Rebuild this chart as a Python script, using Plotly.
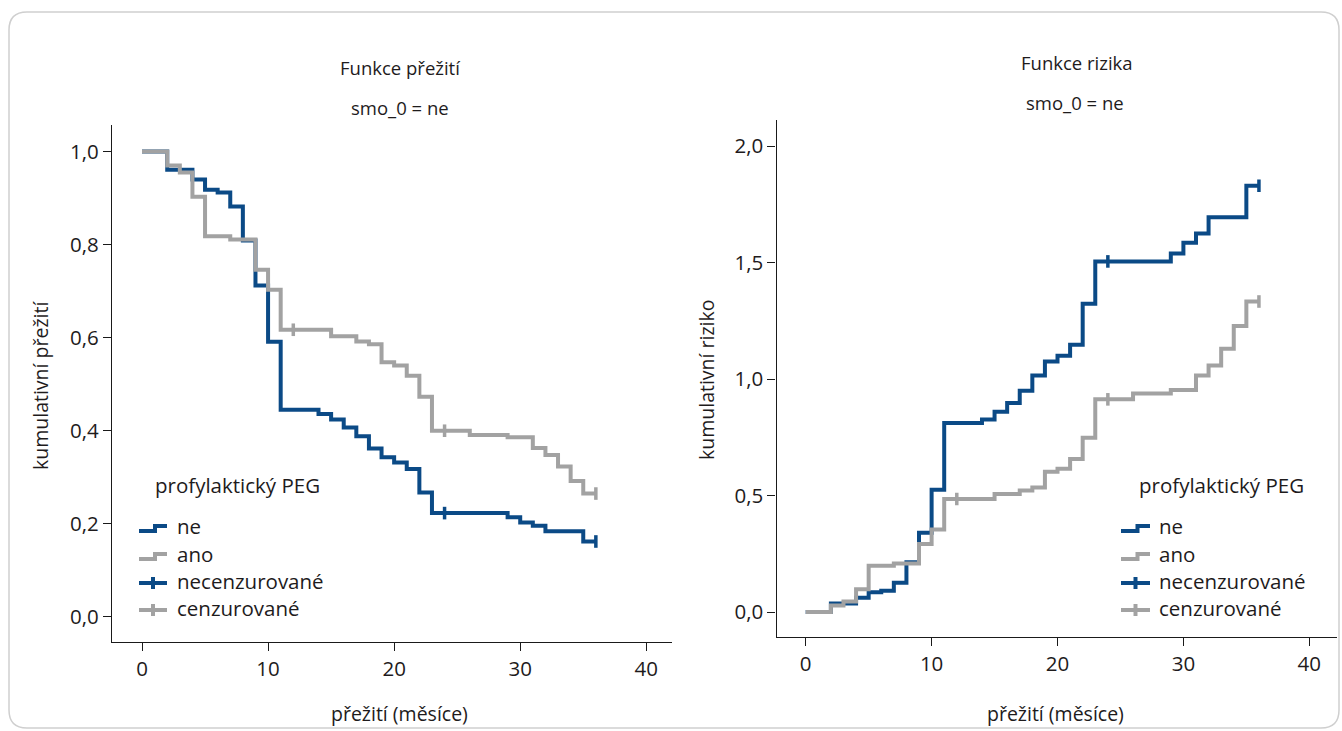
import plotly.graph_objects as go

W, H = 1342, 731

# ---------------- data ----------------
# Kaplan-Meier survival, group "ne" (blue)
surv_ne_t = [0, 2, 4, 5, 6, 7, 8, 9, 10, 11, 14, 15, 16, 17, 18, 19, 20, 21, 22, 23, 29, 30, 31, 32, 35, 36]
surv_ne_s = [1.0, 0.961, 0.940, 0.918, 0.912, 0.882, 0.809, 0.712, 0.591, 0.445, 0.436, 0.424, 0.407, 0.388,
             0.362, 0.343, 0.332, 0.318, 0.267, 0.223, 0.214, 0.203, 0.196, 0.184, 0.162, 0.162]
# group "ano" (gray)
surv_ano_t = [0, 2, 3, 4, 5, 7, 9, 10, 11, 15, 17, 18, 19, 20, 21, 22, 23, 26, 29, 31, 32, 33, 34, 35, 36]
surv_ano_s = [1.0, 0.970, 0.955, 0.903, 0.818, 0.811, 0.746, 0.703, 0.617, 0.603, 0.592, 0.586, 0.547, 0.540,
              0.518, 0.473, 0.400, 0.391, 0.386, 0.363, 0.348, 0.323, 0.292, 0.265, 0.265]
# censored marks on survival
cens_ne_t = [24, 36]
cens_ne_s = [0.223, 0.162]
cens_ano_t = [12, 24, 36]
cens_ano_s = [0.617, 0.400, 0.265]

# cumulative hazard
haz_ne_t = surv_ne_t
haz_ne_h = [0.0, 0.037, 0.062, 0.085, 0.092, 0.126, 0.214, 0.340, 0.525, 0.812, 0.826, 0.860, 0.897, 0.950,
            1.015, 1.075, 1.100, 1.147, 1.323, 1.505, 1.539, 1.585, 1.625, 1.695, 1.830, 1.830]
haz_ano_t = surv_ano_t
haz_ano_h = [0.0, 0.028, 0.045, 0.098, 0.199, 0.208, 0.292, 0.354, 0.485, 0.507, 0.522, 0.535, 0.602, 0.615,
             0.657, 0.748, 0.913, 0.938, 0.953, 1.015, 1.058, 1.130, 1.228, 1.333, 1.333]
hcens_ne_t = [24, 36]
hcens_ne_h = [1.505, 1.830]
hcens_ano_t = [12, 24, 36]
hcens_ano_h = [0.485, 0.913, 1.333]

x_ticks = [0, 10, 20, 30, 40]
y1_ticks = [0.0, 0.2, 0.4, 0.6, 0.8, 1.0]
y1_labels = ["0,0", "0,2", "0,4", "0,6", "0,8", "1,0"]
y2_ticks = [0.0, 0.5, 1.0, 1.5, 2.0]
y2_labels = ["0,0", "0,5", "1,0", "1,5", "2,0"]

legend_title = "profylaktický PEG"
legend_labels = ["ne", "ano", "necenzurované", "cenzurované"]

# ---------------- style ----------------
BLUE = "#0b4a86"
GRAY = "#a2a2a2"
FONT = "Open Sans"
TXT = "#1e1b1c"


def px(x):
    return x / W


def py(y):
    return 1 - y / H


fig = go.Figure()

def add_group(xa, ya, t, v, ct, cv, color):
    fig.add_trace(go.Scatter(x=t, y=v, mode="lines", line=dict(color=color, width=4, shape="hv"),
                             xaxis=xa, yaxis=ya, showlegend=False, hoverinfo="skip"))
    fig.add_trace(go.Scatter(x=ct, y=cv, mode="markers",
                             marker=dict(symbol="line-ns", size=9, line=dict(color=color, width=3.5)),
                             xaxis=xa, yaxis=ya, showlegend=False, hoverinfo="skip"))

add_group("x", "y", surv_ne_t, surv_ne_s, cens_ne_t, cens_ne_s, BLUE)
add_group("x", "y", surv_ano_t, surv_ano_s, cens_ano_t, cens_ano_s, GRAY)
add_group("x2", "y2", haz_ne_t, haz_ne_h, hcens_ne_t, hcens_ne_h, BLUE)
add_group("x2", "y2", haz_ano_t, haz_ano_h, hcens_ano_t, hcens_ano_h, GRAY)

axis_common = dict(showgrid=False, zeroline=False, showline=True, linecolor="#1a1a1a", linewidth=1.3,
                   ticks="outside", ticklen=8, tickwidth=1.2, tickcolor="#1a1a1a",
                   tickfont=dict(family=FONT, size=20.5, color=TXT))

fig.update_layout(
    width=W, height=H,
    margin=dict(l=0, r=0, t=0, b=0),
    paper_bgcolor="white", plot_bgcolor="white",
    showlegend=False,
    xaxis=dict(domain=[px(112), px(672)], range=[-2.38, 42.04], tickvals=x_ticks,
               anchor="y", **axis_common),
    yaxis=dict(domain=[py(642), py(125)], range=[-0.054, 1.057], tickvals=y1_ticks, ticktext=y1_labels,
               anchor="x", **axis_common),
    xaxis2=dict(domain=[px(776.5), px(1337)], range=[-2.32, 42.2], tickvals=x_ticks,
                anchor="y2", **axis_common),
    yaxis2=dict(domain=[py(637), py(120)], range=[-0.107, 2.112], tickvals=y2_ticks, ticktext=y2_labels,
                anchor="x2", **axis_common),
)

ann = []
shapes = []

def text(x, y, s, size=19, xanchor="center", angle=0):
    ann.append(dict(x=px(x), y=py(y), xref="paper", yref="paper", text=s, showarrow=False,
                    xanchor=xanchor, yanchor="middle", textangle=angle,
                    font=dict(family=FONT, size=size, color=TXT)))

# titles
text(400, 68, "Funkce přežití", size=18.5)
text(400, 107, "smo_0 = ne", size=18.5)
text(1077, 62, "Funkce rizika", size=18.5)
text(1075, 102, "smo_0 = ne", size=18.5)
# axis titles
text(40, 386, "kumulativní přežití", size=19.5, angle=-90)
text(706, 380, "kumulativní riziko", size=19.5, angle=-90)
text(399, 713, "přežití (měsíce)", size=19.5)
text(1055, 713, "přežití (měsíce)", size=19.5)

# legends (drawn manually)
def legend(x0, glyph_l, glyph_r, text_x):
    text(x0, 485, legend_title, size=20.5, xanchor="left")
    rows = [528, 556, 583, 610]
    colors = [BLUE, GRAY, BLUE, GRAY]
    for i, (r, c, lab) in enumerate(zip(rows, colors, legend_labels)):
        text(text_x, r - 2, lab, size=20.5, xanchor="left")
        if i < 2:
            mid = (glyph_l + glyph_r) / 2 + 2
            path = (f"M {px(glyph_l)},{py(r + 3)} L {px(mid)},{py(r + 3)} L {px(mid)},{py(r - 2)} "
                    f"L {px(glyph_r)},{py(r - 2)}")
            shapes.append(dict(type="path", path=path, xref="paper", yref="paper",
                               line=dict(color=c, width=4)))
        else:
            shapes.append(dict(type="line", x0=px(glyph_l), x1=px(glyph_r), y0=py(r), y1=py(r),
                               xref="paper", yref="paper", line=dict(color=c, width=4)))
            cx = (glyph_l + glyph_r) / 2
            shapes.append(dict(type="line", x0=px(cx), x1=px(cx), y0=py(r - 6), y1=py(r + 6),
                               xref="paper", yref="paper", line=dict(color=c, width=4)))

legend(153, 139, 167, 175)
legend(1137, 1121, 1150, 1157)

# outer rounded frame
r = 18
x0f, x1f, y0f, y1f = 9, 1339, 12, 728
frame = (f"M {px(x0f + r)},{py(y0f)} L {px(x1f - r)},{py(y0f)} "
         f"Q {px(x1f)},{py(y0f)} {px(x1f)},{py(y0f + r)} "
         f"L {px(x1f)},{py(y1f - r)} Q {px(x1f)},{py(y1f)} {px(x1f - r)},{py(y1f)} "
         f"L {px(x0f + r)},{py(y1f)} Q {px(x0f)},{py(y1f)} {px(x0f)},{py(y1f - r)} "
         f"L {px(x0f)},{py(y0f + r)} Q {px(x0f)},{py(y0f)} {px(x0f + r)},{py(y0f)} Z")
shapes.append(dict(type="path", path=frame, xref="paper", yref="paper",
                   line=dict(color="#cfcfcf", width=1.5), layer="below"))

fig.update_layout(annotations=ann, shapes=shapes)
fig.write_html("out.html")
